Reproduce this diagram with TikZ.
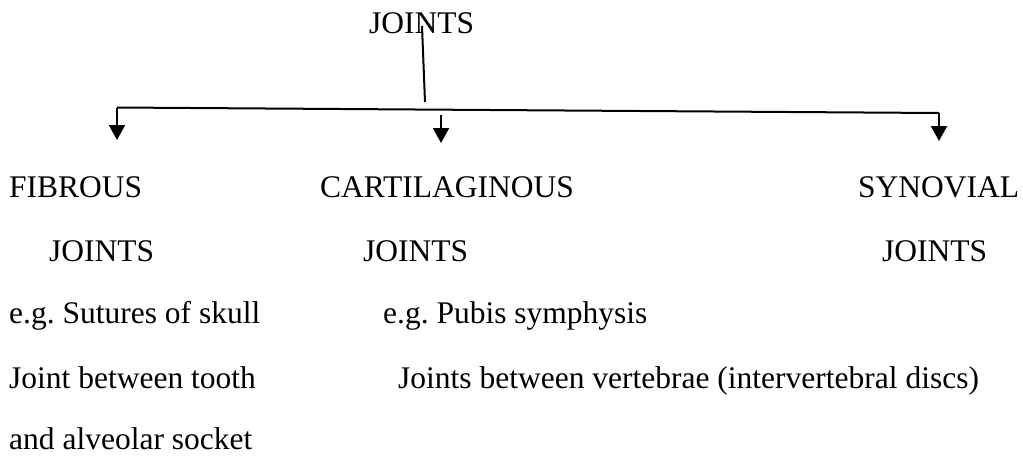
\documentclass[tikz,border=0pt]{standalone}
\usepackage{fontspec}
\setmainfont{Liberation Serif}
\usetikzlibrary{arrows.meta}
\begin{document}
\frenchspacing
\begin{tikzpicture}[x=1pt,y=-1pt,
  lbl/.style={anchor=base west,inner sep=0pt,font=\fontsize{31.5}{36}\selectfont},
  conn/.style={line width=2pt},
  arr/.style={conn,-{Triangle[width=16pt,length=15pt]}}]
\useasboundingbox (0,0) rectangle (1023,456);
% texts
\node[lbl] (top) at (369,33) {JOINTS};
\node[lbl] (fib) at (9,197) {FIBROUS};
\node[lbl] (fibj) at (49,261) {JOINTS};
\node[lbl] (car) at (320,197) {CARTILAGINOUS};
\node[lbl] (carj) at (363,261) {JOINTS};
\node[lbl] (syn) at (858,197) {SYNOVIAL};
\node[lbl] (synj) at (882,261) {JOINTS};
\node[lbl] (ex1) at (9,323) {e.g. Sutures of skull};
\node[lbl] (ex2) at (9,388) {Joint between tooth};
\node[lbl] (ex3) at (9,449) {and alveolar socket};
\node[lbl] (ex4) at (383,323) {e.g. Pubis symphysis};
\node[lbl] (ex5) at (398,388) {Joints between vertebrae (intervertebral discs)};
% connectors
\coordinate (t0) at (422,26);
\coordinate (t1) at (425,102);
\coordinate (bl) at (117,107.5);
\coordinate (br) at (939,113);
\coordinate (m0) at (441,115);
\coordinate (lt) at (117,140);
\coordinate (mt) at (441,143);
\coordinate (rt) at (939,141);
\draw[conn] (t0) -- (t1);
\draw[conn] (bl) -- (br);
\draw[arr] (bl) -- (lt);
\draw[arr] (m0) -- (mt);
\draw[arr] (br) -- (rt);
\end{tikzpicture}
\end{document}
